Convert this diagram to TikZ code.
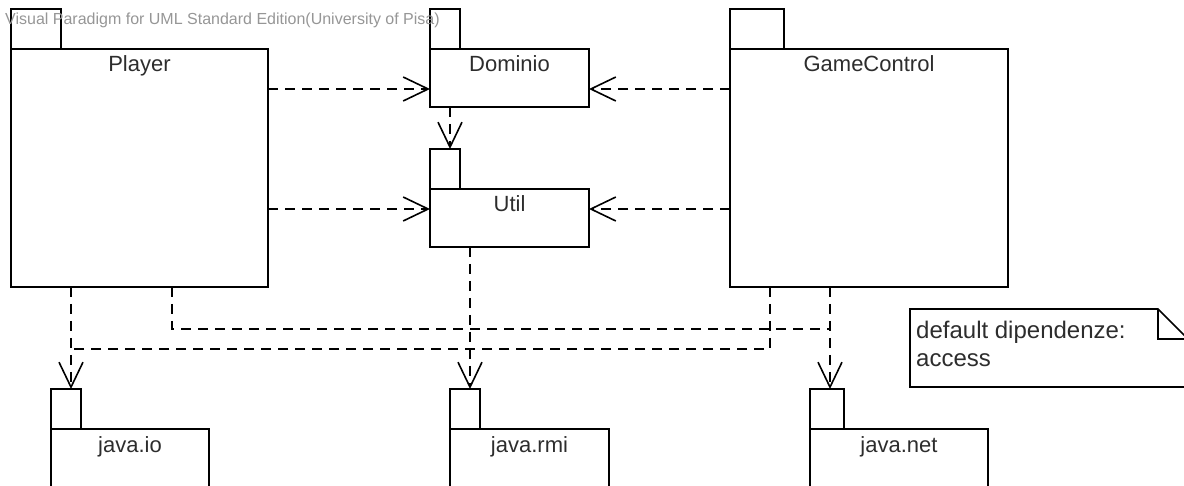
\documentclass[tikz,border=0pt]{standalone}
\usepackage{fontspec}
\setmainfont{Liberation Sans}
\usetikzlibrary{arrows.meta}
\pgfdeclarelayer{bg}
\pgfsetlayers{bg,main}
\definecolor{namegray}{RGB}{45,45,45}
\definecolor{markgray}{RGB}{150,150,150}
\tikzset{
    pkg/.style={rectangle, draw, line width=1.6pt, inner sep=0mm, outer sep=0mm, anchor=north west},
    tab/.style={rectangle, draw, line width=1.6pt, inner sep=0mm, outer sep=0mm, anchor=south west, minimum height=40pt}
}
\tikzset{pkgname/.style={draw=none, anchor=base, yshift=-23pt, inner sep=0mm, text=namegray, font=\fontsize{22}{26}\selectfont}}
\tikzset{
    dep/.style={line width=1.4pt, dash pattern=on 10pt off 7pt},
    deptip/.style={dep, -{Straight Barb[length=25pt, width=24pt, line width=1.6pt]}}
}

\begin{document}
\begin{tikzpicture}[x=1pt, y=-1pt]
    \useasboundingbox (0,0) rectangle (1184,486);
    \clip (0,0) rectangle (1184,486);

    \node (player) [pkg, minimum width=257pt, minimum height=238pt, label={[pkgname]north:Player}] at (11, 49) {};
    \node (playertab) [tab, minimum width=50pt] at (player.north west) {};
    \node (dominio) [pkg, minimum width=159pt, minimum height=58pt, label={[pkgname]north:Dominio}] at (430, 49) {};
    \node (dominiotab) [tab, minimum width=30pt] at (dominio.north west) {};
    \node (util) [pkg, minimum width=159pt, minimum height=58pt, label={[pkgname]north:Util}] at (430, 189) {};
    \node (utiltab) [tab, minimum width=30pt] at (util.north west) {};
    \node (gamecontrol) [pkg, minimum width=278pt, minimum height=238pt, label={[pkgname]north:GameControl}] at (730, 49) {};
    \node (gamecontroltab) [tab, minimum width=54pt] at (gamecontrol.north west) {};

    \node (javaio) [pkg, minimum width=158pt, minimum height=80pt, label={[pkgname]north:java.io}] at (51, 429) {};
    \node (javaiotab) [tab, minimum width=30pt] at (javaio.north west) {};
    \node (javarmi) [pkg, minimum width=159pt, minimum height=80pt, label={[pkgname]north:java.rmi}] at (450, 429) {};
    \node (javarmitab) [tab, minimum width=30pt] at (javarmi.north west) {};
    \node (javanet) [pkg, minimum width=178pt, minimum height=80pt, label={[pkgname]north:java.net}] at (810, 429) {};
    \node (javanettab) [tab, minimum width=34pt] at (javanet.north west) {};

    \node (note) [anchor=north west, inner sep=0mm, align=left, text=namegray, font=\fontsize{24}{28}\selectfont] at (916, 321) {default dipendenze:\\access};
    \draw [line width=1.6pt] (910, 387) -- (910, 309) -- (1158, 309) -- (1188, 339) -- (1188, 387) -- cycle;
    \draw [line width=1.6pt] (1158, 309) |- (1188, 339);

    \begin{pgfonlayer}{bg}
        \draw (player.east |- 0,89) edge [deptip] (dominio.west |- 0,89);
        \draw (player.east |- 0,209) edge [deptip] (util.west |- 0,209);
        \draw (gamecontrol.west |- 0,89) edge [deptip] (dominio.east |- 0,89);
        \draw (gamecontrol.west |- 0,209) edge [deptip] (util.east |- 0,209);
        \draw (dominio.south -| 450,0) edge [deptip] (utiltab.north -| 450,0);

        \draw (util.south -| 470,0) edge [deptip] (javarmitab.north -| 470,0);

        \draw (player.south -| 71,0) edge [deptip] (javaiotab.north -| 71,0);
        \draw [dep] (gamecontrol.south -| 770,0) |- (71, 349);

        \draw [dep] (player.south -| 172,0) |- (830, 329);
        \draw (gamecontrol.south -| 830,0) edge [deptip] (javanettab.north -| 830,0);
    \end{pgfonlayer}

    \node (mark) [anchor=base west, inner sep=0mm, text=markgray, font=\fontsize{16}{19}\selectfont] at (5, 25) {Visual Paradigm for UML Standard Edition(University of Pisa)};
\end{tikzpicture}
\end{document}
